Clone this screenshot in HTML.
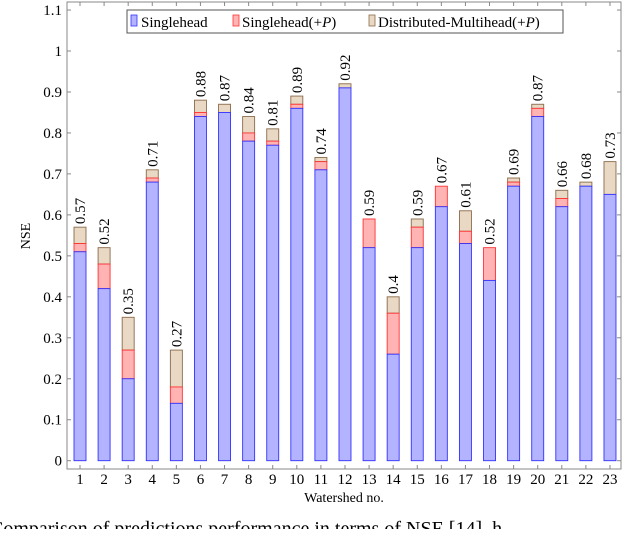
<!DOCTYPE html>
<html><head><meta charset="utf-8"><style>
html,body{margin:0;padding:0;background:#fff;overflow:hidden}
svg, svg text{font-family:"Liberation Serif","DejaVu Serif","Times New Roman",serif}
</style></head><body>
<svg id="chart" width="640" height="529" viewBox="0 0 640 529" font-family="'Liberation Serif','DejaVu Serif',serif">
<rect x="67" y="2" width="554" height="467" fill="none" stroke="#888" stroke-width="1"/>
<g id="grid"></g><g id="bars"></g><g id="labels"></g>
<text x="30" y="236" font-size="14" text-anchor="middle" transform="rotate(-90 30 236)">NSE</text>
<text x="344" y="502" font-size="14" text-anchor="middle">Watershed no.</text>
<g>
<rect x="127" y="10" width="436" height="23" fill="#fff" stroke="#555"/>
<rect x="131" y="15" width="6" height="11" fill="#b3b3ff" stroke="#3333ff" stroke-width="0.8"/>
<text x="141" y="27" font-size="15">Singlehead</text>
<rect x="233" y="15" width="6" height="11" fill="#ffb3b3" stroke="#ff3333" stroke-width="0.8"/>
<text x="242" y="27" font-size="15">Singlehead(+<tspan font-style="italic">P</tspan>)</text>
<rect x="369" y="15" width="6" height="11" fill="#e8d8c4" stroke="#8b6b4b" stroke-width="0.8"/>
<text x="378" y="27" font-size="15">Distributed-Multihead(+<tspan font-style="italic">P</tspan>)</text>
</g>
<text x="-10" y="535" font-size="20">Comparison of predictions performance in terms of NSE [14]. h</text>
</svg>
<script>
const categories=[1,2,3,4,5,6,7,8,9,10,11,12,13,14,15,16,17,18,19,20,21,22,23];
const singlehead=[0.51,0.42,0.20,0.68,0.14,0.84,0.85,0.78,0.77,0.86,0.71,0.91,0.52,0.26,0.52,0.62,0.53,0.44,0.67,0.84,0.62,0.67,0.65];
const singleheadP=[0.53,0.48,0.27,0.69,0.18,0.85,0.85,0.80,0.78,0.87,0.73,0.91,0.59,0.36,0.57,0.67,0.56,0.52,0.68,0.86,0.64,0.67,0.65];
const distributed=[0.57,0.52,0.35,0.71,0.27,0.88,0.87,0.84,0.81,0.89,0.74,0.92,0.59,0.40,0.59,0.67,0.61,0.52,0.69,0.87,0.66,0.68,0.73];
const yTicks=[0,0.1,0.2,0.3,0.4,0.5,0.6,0.7,0.8,0.9,1,1.1];
const yTickLabels=["0","0.1","0.2","0.3","0.4","0.5","0.6","0.7","0.8","0.9","1","1.1"];
const NS="http://www.w3.org/2000/svg";
const y=v=>460.7-v*409.7;
const x=i=>80+i*24.09;
const grid=document.getElementById('grid'),bars=document.getElementById('bars'),labels=document.getElementById('labels');
function mk(tag,attrs,parent){const e=document.createElementNS(NS,tag);for(const k in attrs)e.setAttribute(k,attrs[k]);parent.appendChild(e);return e;}
yTicks.forEach((t,i)=>{
  mk('line',{x1:67,x2:71,y1:y(t),y2:y(t),stroke:'#888'},grid);
  mk('line',{x1:617,x2:621,y1:y(t),y2:y(t),stroke:'#888'},grid);
  const tx=mk('text',{x:62,y:y(t)+5,'font-size':15,'text-anchor':'end'},grid);
  
  
  tx.textContent=yTickLabels[i];
});
categories.forEach((c,i)=>{
  const cx=x(i);
  mk('line',{x1:cx,x2:cx,y1:469,y2:465,stroke:'#888'},grid);
  mk('line',{x1:cx,x2:cx,y1:2,y2:6,stroke:'#888'},grid);
  const tl=mk('text',{x:cx,y:484,'font-size':15,'text-anchor':'middle'},grid);
  
  
  tl.textContent=c;
  const w=12,l=cx-6;
  const d=mk('rect',{x:l,y:y(distributed[i]),width:w,height:y(singleheadP[i])-y(distributed[i]),fill:'#e8d8c4',stroke:'#8b6b4b','stroke-width':0.9},bars);
  
  
  const p=mk('rect',{x:l,y:y(singleheadP[i]),width:w,height:y(singlehead[i])-y(singleheadP[i]),fill:'#ffb3b3',stroke:'#ff3333','stroke-width':0.9},bars);
  
  
  const s=mk('rect',{x:l,y:y(singlehead[i]),width:w,height:y(0)-y(singlehead[i]),fill:'#b3b3ff',stroke:'#3333ff','stroke-width':0.9},bars);
  
  
  const ly=y(distributed[i])-3;
  const vl=mk('text',{x:cx+5,y:ly,'font-size':15,transform:`rotate(-90 ${cx+5} ${ly})`},labels);
  
  
  vl.textContent=String(distributed[i]);
});
</script>
</body></html>
